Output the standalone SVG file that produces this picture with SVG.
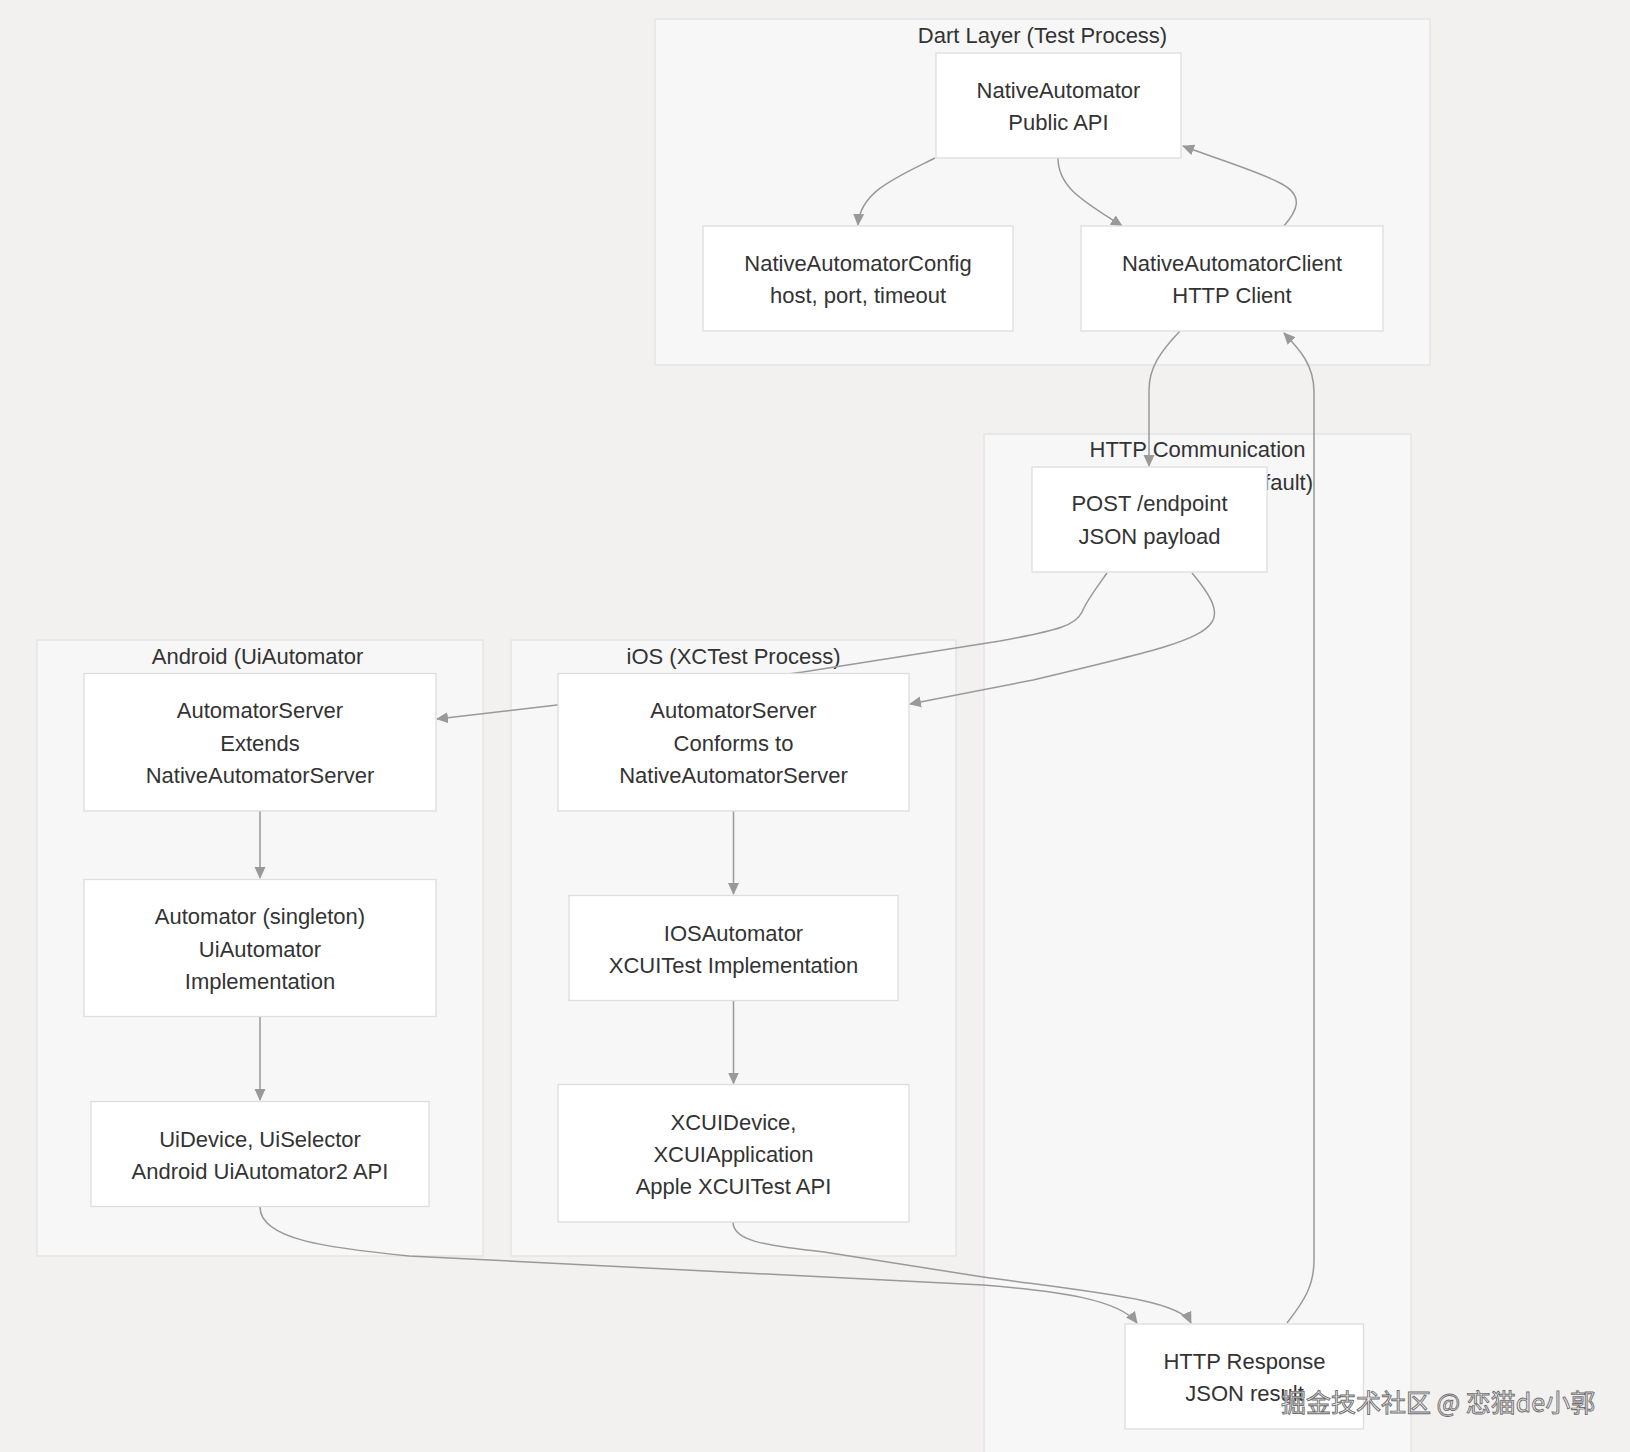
<svg xmlns="http://www.w3.org/2000/svg" width="1630" height="1452" viewBox="0 0 1630 1452">
<defs>
<style>
.bg{fill:#f2f1f0}
.cluster{fill:#f7f7f7;stroke:#e2e2e2;stroke-width:1.3}
.node rect{fill:#ffffff;stroke:#dedede;stroke-width:1.3}
text{font-family:"Liberation Sans",Arial,sans-serif;font-size:22px;fill:#333333}
.c{text-anchor:middle}
.edge{fill:none;stroke:#999999;stroke-width:1.5}
.wm{font-family:"Noto Sans CJK SC","Liberation Sans",sans-serif;font-size:25px;fill:#eeeeee;stroke:#6e6e6e;stroke-width:0.9}
</style>
<marker id="arr" viewBox="0 0 12 12" refX="11" refY="6" markerWidth="12" markerHeight="12" markerUnits="userSpaceOnUse" orient="auto">
<path d="M0,0.5 L12,6 L0,11.5 z" fill="#999999"/>
</marker>
</defs>
<rect class="bg" x="0" y="0" width="1630" height="1452"/>

<g id="clusters">
<g id="cluster-dart">
<rect class="cluster" x="655" y="19" width="775" height="346"/>
<text class="c" x="1042.5" y="43">Dart Layer (Test Process)</text>
</g>
<g id="cluster-http">
<rect class="cluster" x="984" y="434" width="427" height="1040"/>
<text class="c" x="1197.5" y="457">HTTP Communication</text>
<text x="1313" y="490" text-anchor="end">fault)</text>
</g>
<g id="cluster-android">
<rect class="cluster" x="37" y="640" width="446" height="616"/>
<text class="c" x="257.5" y="664">Android (UiAutomator</text>
</g>
<g id="cluster-ios">
<rect class="cluster" x="511" y="640" width="445" height="616"/>
<text class="c" x="733.5" y="664">iOS (XCTest Process)</text>
</g>
</g>

<g id="connectors">
<path class="edge" d="M935,158 C895,178 860,192 858,225" marker-end="url(#arr)"/>
<path class="edge" d="M1058,158 C1058,188 1085,202 1122,226" marker-end="url(#arr)"/>
<path class="edge" d="M1284,226 C1296,212 1306,196 1280,183 C1260,172 1220,160 1183,146" marker-end="url(#arr)"/>
<path class="edge" d="M1180,331 C1160,352 1149,368 1149,390 L1149,466" marker-end="url(#arr)"/>
<path class="edge" d="M1107,573 C1095,590 1087,600 1082,612 C1076,625 1060,630 1000,641 L803,672 L557,705 L437,719" marker-end="url(#arr)"/>
<path class="edge" d="M1192,573 C1208,592 1220,610 1212,622 C1200,640 1160,650 1033,680 L910,704" marker-end="url(#arr)"/>
<path class="edge" d="M260,811 L260,878" marker-end="url(#arr)"/>
<path class="edge" d="M260,1017 L260,1100" marker-end="url(#arr)"/>
<path class="edge" d="M733.5,811 L733.5,894" marker-end="url(#arr)"/>
<path class="edge" d="M733.5,1000.5 L733.5,1083.5" marker-end="url(#arr)"/>
<path class="edge" d="M260,1207 C260,1240 330,1248 409,1256 L983,1285 C1060,1291 1120,1300 1137,1323" marker-end="url(#arr)"/>
<path class="edge" d="M733,1222 C733,1240 760,1245 824,1252 L983,1277 C1100,1293 1180,1300 1191,1323" marker-end="url(#arr)"/>
<path class="edge" d="M1287,1323 C1305,1300 1314,1285 1314,1260 L1314,392 C1314,365 1300,350 1284,333" marker-end="url(#arr)"/>
</g>

<g id="node-nativeautomator" class="node">
<rect x="936" y="53" width="245" height="105"/>
<text class="c" x="1058.5" y="98">NativeAutomator</text>
<text class="c" x="1058.5" y="130">Public API</text>
</g>
<g id="node-config" class="node">
<rect x="703" y="226" width="310" height="105"/>
<text class="c" x="858" y="271">NativeAutomatorConfig</text>
<text class="c" x="858" y="303">host, port, timeout</text>
</g>
<g id="node-client" class="node">
<rect x="1081" y="226" width="302" height="105"/>
<text class="c" x="1232" y="271">NativeAutomatorClient</text>
<text class="c" x="1232" y="303">HTTP Client</text>
</g>
<g id="node-post" class="node">
<rect x="1032" y="467" width="235" height="105"/>
<text class="c" x="1149.5" y="511">POST /endpoint</text>
<text class="c" x="1149.5" y="543.5">JSON payload</text>
</g>
<g id="node-android-server" class="node">
<rect x="84" y="673.5" width="352" height="137.5"/>
<text class="c" x="260" y="718">AutomatorServer</text>
<text class="c" x="260" y="750.5">Extends</text>
<text class="c" x="260" y="783">NativeAutomatorServer</text>
</g>
<g id="node-android-automator" class="node">
<rect x="84" y="879.5" width="352" height="137"/>
<text class="c" x="260" y="924">Automator (singleton)</text>
<text class="c" x="260" y="956.5">UiAutomator</text>
<text class="c" x="260" y="989">Implementation</text>
</g>
<g id="node-android-api" class="node">
<rect x="91" y="1101.5" width="338" height="105"/>
<text class="c" x="260" y="1146.5">UiDevice, UiSelector</text>
<text class="c" x="260" y="1178.5">Android UiAutomator2 API</text>
</g>
<g id="node-ios-server" class="node">
<rect x="558" y="673.5" width="351" height="137.5"/>
<text class="c" x="733.5" y="718">AutomatorServer</text>
<text class="c" x="733.5" y="750.5">Conforms to</text>
<text class="c" x="733.5" y="783">NativeAutomatorServer</text>
</g>
<g id="node-ios-automator" class="node">
<rect x="569" y="895.5" width="329" height="105"/>
<text class="c" x="733.5" y="940.5">IOSAutomator</text>
<text class="c" x="733.5" y="973">XCUITest Implementation</text>
</g>
<g id="node-ios-api" class="node">
<rect x="558" y="1084.5" width="351" height="137.5"/>
<text class="c" x="733.5" y="1129.5">XCUIDevice,</text>
<text class="c" x="733.5" y="1162">XCUIApplication</text>
<text class="c" x="733.5" y="1194">Apple XCUITest API</text>
</g>
<g id="node-response" class="node">
<rect x="1125" y="1324" width="238.5" height="105"/>
<text class="c" x="1244.5" y="1368.5">HTTP Response</text>
<text class="c" x="1244.5" y="1400.5">JSON result</text>
</g>

<text class="wm" x="1281" y="1412">掘金技术社区 @ 恋猫de小郭</text>
</svg>
